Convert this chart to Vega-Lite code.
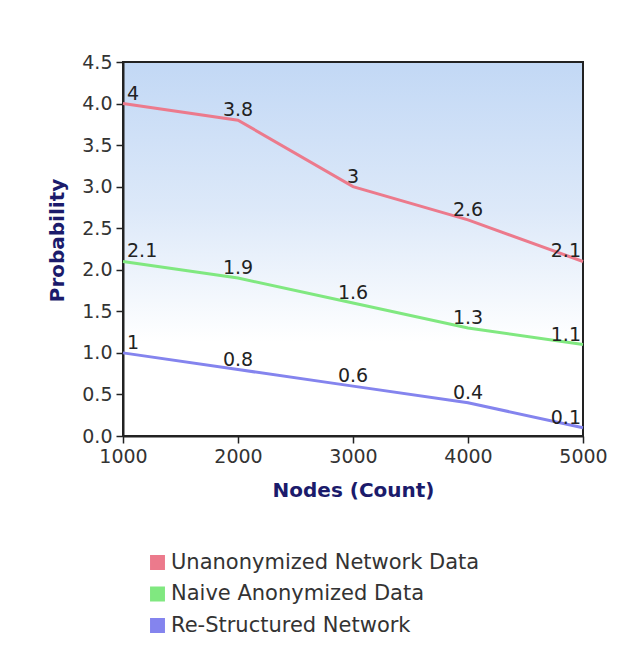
{
  "$schema": "https://vega.github.io/schema/vega-lite/v6.json",
  "width": 460,
  "height": 374,
  "autosize": "none",
  "padding": {"left": 123, "top": 62, "right": 56, "bottom": 209},
  "background": "#ffffff",
  "config": {
    "font": "DejaVu Sans",
    "view": {
      "stroke": "#222222",
      "strokeWidth": 2,
      "fill": {"gradient": "linear", "x1": 0, "y1": 0, "x2": 0, "y2": 1,
        "stops": [{"offset": 0, "color": "#c2d8f5"}, {"offset": 0.4, "color": "#dde9f9"}, {"offset": 0.75, "color": "#ffffff"}, {"offset": 1, "color": "#ffffff"}]}
    },
    "axis": {
      "grid": false,
      "domainColor": "#222222",
      "domainWidth": 2,
      "tickColor": "#222222",
      "tickWidth": 1.5,
      "tickSize": 7,
      "labelFont": "DejaVu Sans",
      "labelFontSize": 19,
      "labelColor": "#333333",
      "labelPadding": 4,
      "labelFlush": false,
      "labelOverlap": false,
      "titleFont": "DejaVu Sans",
      "titleFontSize": 20,
      "titleFontWeight": "bold",
      "titleColor": "#1b1b6b"
    },
    "legend": {
      "labelFont": "DejaVu Sans",
      "labelFontSize": 21,
      "labelColor": "#333333",
      "labelLimit": 0
    }
  },
  "data": {
    "values": [
      {"series": "Unanonymized Network Data", "nodes": 1000, "probability": 4},
      {"series": "Unanonymized Network Data", "nodes": 2000, "probability": 3.8},
      {"series": "Unanonymized Network Data", "nodes": 3000, "probability": 3},
      {"series": "Unanonymized Network Data", "nodes": 4000, "probability": 2.6},
      {"series": "Unanonymized Network Data", "nodes": 5000, "probability": 2.1},
      {"series": "Naive Anonymized Data", "nodes": 1000, "probability": 2.1},
      {"series": "Naive Anonymized Data", "nodes": 2000, "probability": 1.9},
      {"series": "Naive Anonymized Data", "nodes": 3000, "probability": 1.6},
      {"series": "Naive Anonymized Data", "nodes": 4000, "probability": 1.3},
      {"series": "Naive Anonymized Data", "nodes": 5000, "probability": 1.1},
      {"series": "Re-Structured Network", "nodes": 1000, "probability": 1},
      {"series": "Re-Structured Network", "nodes": 2000, "probability": 0.8},
      {"series": "Re-Structured Network", "nodes": 3000, "probability": 0.6},
      {"series": "Re-Structured Network", "nodes": 4000, "probability": 0.4},
      {"series": "Re-Structured Network", "nodes": 5000, "probability": 0.1}
    ]
  },
  "encoding": {
    "x": {
      "field": "nodes", "type": "quantitative",
      "scale": {"domain": [1000, 5000], "nice": false, "zero": false},
      "axis": {"title": "Nodes (Count)", "values": [1000, 2000, 3000, 4000, 5000], "format": "d", "titlePadding": 14}
    },
    "y": {
      "field": "probability", "type": "quantitative",
      "scale": {"domain": [0, 4.5], "nice": false},
      "axis": {"title": "Probability", "values": [0, 0.5, 1, 1.5, 2, 2.5, 3, 3.5, 4, 4.5], "format": ".1f", "titlePadding": 14, "titleY": 178}
    }
  },
  "layer": [
    {
      "mark": {"type": "line", "strokeWidth": 3},
      "encoding": {
        "color": {
          "field": "series", "type": "nominal",
          "scale": {
            "domain": ["Unanonymized Network Data", "Naive Anonymized Data", "Re-Structured Network"],
            "range": ["#ec7a8c", "#80e880", "#8484ee"]
          },
          "legend": {
            "title": null,
            "orient": "none",
            "legendX": 24,
            "legendY": 490,
            "direction": "vertical",
            "symbolType": "square",
            "symbolSize": 180,
            "symbolStrokeWidth": 1.5,
            "symbolStrokeColor": "#333333",
            "labelOffset": 3,
            "rowPadding": 9.5,
            "labelLimit": 0,
            "encode": {
              "symbols": {
                "enter": {
                  "stroke": {"value": "#333333"},
                  "strokeWidth": {"value": 1.5}
                },
                "update": {
                  "fill": {"scale": "color", "field": "value"},
                  "stroke": {"value": "#333333"},
                  "strokeWidth": {"value": 1.5},
                  "opacity": {"value": 1}
                }
              }
            }
          }
        }
      }
    },
    {
      "transform": [{"filter": "datum.nodes == 1000"}],
      "mark": {"type": "text", "align": "left", "baseline": "alphabetic", "dx": 4, "dy": -4, "fontSize": 19, "color": "#222222"},
      "encoding": {"text": {"field": "probability", "type": "quantitative"}}
    },
    {
      "transform": [{"filter": "datum.nodes > 1000 && datum.nodes < 5000"}],
      "mark": {"type": "text", "align": "center", "baseline": "alphabetic", "dy": -4, "fontSize": 19, "color": "#222222"},
      "encoding": {"text": {"field": "probability", "type": "quantitative"}}
    },
    {
      "transform": [{"filter": "datum.nodes == 5000"}],
      "mark": {"type": "text", "align": "right", "baseline": "alphabetic", "dx": -2, "dy": -4, "fontSize": 19, "color": "#222222"},
      "encoding": {"text": {"field": "probability", "type": "quantitative"}}
    }
  ]
}
